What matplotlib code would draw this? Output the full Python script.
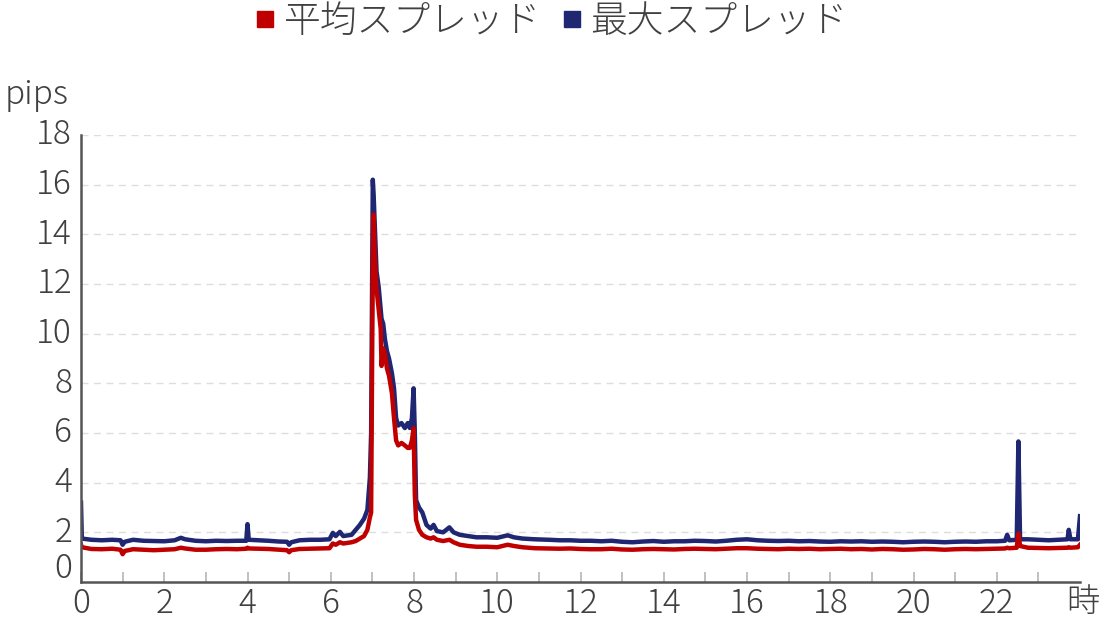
import matplotlib
matplotlib.use("Agg")
import matplotlib.pyplot as plt
from matplotlib.lines import Line2D

plt.rcParams['font.family'] = ['Noto Sans CJK JP', 'DejaVu Sans']
plt.rcParams['font.weight'] = 'light'

# time of day (hours) and spreads (pips)
hours = [0.0, 0.02, 0.25, 0.5, 0.75, 0.95, 1.0, 1.05, 1.25, 1.5, 1.75, 2.0, 2.25, 2.4, 2.5,
         2.75, 3.0, 3.25, 3.5, 3.75, 3.97, 4.0, 4.03, 4.25, 4.5, 4.75, 4.95, 5.0, 5.05, 5.25,
         5.5, 5.75, 5.97, 6.05, 6.12, 6.22, 6.3, 6.5, 6.6, 6.7, 6.8, 6.88, 6.94, 6.97, 7.01,
         7.03, 7.06, 7.1, 7.15, 7.2, 7.22, 7.26, 7.3, 7.35, 7.4, 7.47, 7.52, 7.57, 7.62, 7.7,
         7.78, 7.85, 7.9, 7.95, 7.99, 8.02, 8.05, 8.12, 8.2, 8.3, 8.4, 8.47, 8.55, 8.7, 8.85,
         8.95, 9.1, 9.3, 9.5, 9.75, 10.0, 10.25, 10.4, 10.6, 10.9, 11.25, 11.5, 11.75, 12.0,
         12.25, 12.5, 12.75, 13.0, 13.25, 13.5, 13.75, 14.0, 14.25, 14.5, 14.75, 15.0, 15.25,
         15.5, 15.75, 16.0, 16.25, 16.5, 16.75, 17.0, 17.25, 17.5, 17.75, 18.0, 18.25, 18.5,
         18.75, 19.0, 19.25, 19.5, 19.75, 20.0, 20.25, 20.5, 20.75, 21.0, 21.25, 21.5, 21.75,
         22.0, 22.2, 22.25, 22.3, 22.48, 22.52, 22.56, 22.75, 23.0, 23.25, 23.5, 23.7, 23.73,
         23.77, 23.95, 24.0]

max_spread = [3.2, 1.75, 1.7, 1.68, 1.7, 1.68, 1.5, 1.62, 1.7, 1.66, 1.65, 1.64, 1.68, 1.78, 1.72,
              1.66, 1.64, 1.66, 1.65, 1.66, 1.66, 2.33, 1.7, 1.68, 1.66, 1.63, 1.62, 1.5, 1.6, 1.68,
              1.7, 1.7, 1.72, 1.98, 1.85, 2.02, 1.85, 1.9, 2.1, 2.3, 2.55, 2.9, 4.2, 6.0, 16.2,
              15.6, 14.3, 12.5, 11.9, 11.0, 10.6, 10.4, 9.8, 9.3, 9.0, 8.4, 7.8, 6.6, 6.3, 6.4,
              6.2, 6.4, 6.2, 6.6, 7.8, 6.0, 3.3, 3.0, 2.8, 2.3, 2.15, 2.3, 2.05, 2.0, 2.2,
              2.0, 1.9, 1.85, 1.8, 1.8, 1.78, 1.88, 1.8, 1.75, 1.72, 1.7, 1.68, 1.68, 1.66,
              1.66, 1.64, 1.66, 1.62, 1.6, 1.63, 1.65, 1.62, 1.64, 1.64, 1.66, 1.65, 1.63,
              1.66, 1.7, 1.72, 1.68, 1.66, 1.65, 1.66, 1.64, 1.65, 1.63, 1.62, 1.64, 1.63,
              1.64, 1.62, 1.63, 1.62, 1.6, 1.62, 1.63, 1.62, 1.6, 1.62, 1.63, 1.62, 1.64,
              1.64, 1.66, 1.9, 1.68, 1.7, 5.66, 1.72, 1.72, 1.7, 1.68, 1.7, 1.72, 2.1,
              1.72, 1.72, 2.65]

avg_spread = [1.5, 1.4, 1.33, 1.32, 1.34, 1.3, 1.12, 1.25, 1.32, 1.3, 1.28, 1.3, 1.32, 1.38, 1.35,
              1.3, 1.3, 1.32, 1.33, 1.32, 1.34, 1.38, 1.35, 1.34, 1.33, 1.3, 1.28, 1.2, 1.28, 1.33,
              1.34, 1.35, 1.36, 1.55, 1.5, 1.6, 1.55, 1.6, 1.65, 1.75, 1.85, 2.1, 2.6, 2.8, 13.0,
              14.8, 13.0, 11.8, 11.0, 10.2, 8.7, 9.4, 9.2, 8.6, 8.3, 7.6, 6.6, 5.7, 5.5, 5.6,
              5.5, 5.4, 5.4, 5.7, 6.2, 3.5, 2.5, 2.1, 1.9, 1.8, 1.75, 1.8, 1.7, 1.65, 1.7,
              1.6, 1.5, 1.45, 1.42, 1.42, 1.4, 1.5, 1.45, 1.4, 1.36, 1.35, 1.34, 1.35, 1.33,
              1.32, 1.32, 1.34, 1.31, 1.3, 1.32, 1.33, 1.32, 1.31, 1.33, 1.34, 1.33, 1.32,
              1.34, 1.36, 1.36, 1.34, 1.33, 1.32, 1.34, 1.33, 1.34, 1.32, 1.33, 1.34, 1.32,
              1.33, 1.31, 1.33, 1.32, 1.3, 1.31, 1.33, 1.32, 1.3, 1.32, 1.33, 1.32, 1.33,
              1.34, 1.35, 1.38, 1.36, 1.38, 1.95, 1.45, 1.38, 1.37, 1.36, 1.37, 1.38, 1.4,
              1.38, 1.4, 1.5]

series_names = ['平均スプレッド', '最大スプレッド']
series_colors = ['#c00000', '#1f2672']
y_ticks = [0, 2, 4, 6, 8, 10, 12, 14, 16, 18]
x_ticks = list(range(0, 24))
x_labels = [str(h) if h % 2 == 0 else '' for h in x_ticks]

txt = '#404040'
fs = 24

fig = plt.figure(figsize=(11, 6.2), dpi=100)
ax = fig.add_axes([81 / 1100, 1 - 582 / 620, 999 / 1100, 447 / 620])

ax.plot(hours, max_spread, color=series_colors[1], lw=3.2, solid_joinstyle='round')
ax.plot(hours, avg_spread, color=series_colors[0], lw=3.2, solid_joinstyle='round')

ax.set_xlim(0, 24)
ax.set_ylim(0, 18)

for v in y_ticks[1:]:
    ax.axhline(v, color='#dddddd', lw=1, ls=(0, (5, 4)), zorder=0)

ax.set_yticks([])
for v in y_ticks:
    yy = 0.55 if v == 0 else v
    ax.text(-0.009, yy, str(v), transform=ax.get_yaxis_transform(), ha='right', va='center',
            fontsize=fs, color=txt)

ax.set_xticks(x_ticks)
ax.set_xticklabels(x_labels, fontsize=fs, color=txt)
ax.tick_params(axis='x', direction='in', length=7, width=1.3, color='#bbbbbb', pad=3)

for side in ['top', 'right']:
    ax.spines[side].set_visible(False)
for side in ['left', 'bottom']:
    ax.spines[side].set_color('#555555')
    ax.spines[side].set_linewidth(1.8)

fig.text(5 / 1100, 1 - 95 / 620, 'pips', ha='left', va='center', fontsize=fs, color=txt)
fig.text(1083 / 1100, 1 - 603 / 620, '時', ha='center', va='center', fontsize=fs, color=txt)

handles = [Line2D([], [], ls='none', marker='s', markersize=12, color=c) for c in series_colors]
fig.legend(handles, series_names, loc='center', bbox_to_anchor=(0.5, 1 - 22 / 620), ncol=2,
           frameon=False, fontsize=26.5, labelcolor=txt, handletextpad=0.15, columnspacing=0.5,
           handlelength=0.7)

fig.savefig('out.png', dpi=100)
